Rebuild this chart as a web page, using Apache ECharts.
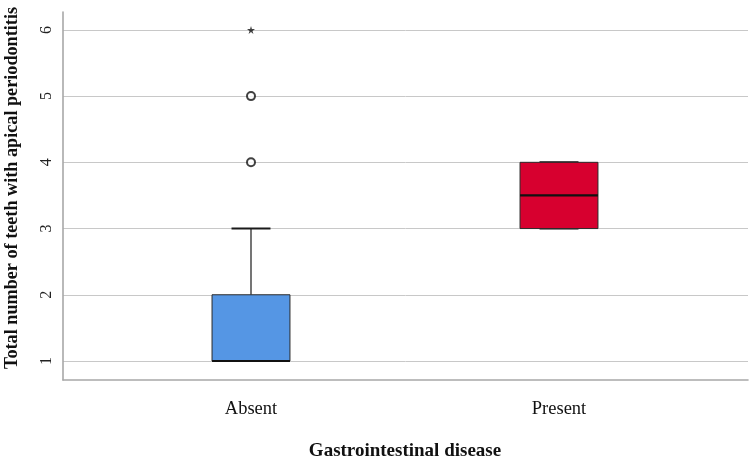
<!DOCTYPE html>
<html>
<head>
<meta charset="utf-8">
<script src="https://cdn.jsdelivr.net/npm/echarts@6/dist/echarts.min.js"></script>
<style>html,body{margin:0;padding:0;background:#fff}#c{width:750px;height:460px}</style>
</head>
<body>
<div id="c"></div>
<script>
const categories = ['Absent', 'Present'];
const boxMin = [1, 3];
const boxQ1 = [1, 3];
const boxMedian = [1, 3.5];
const boxQ3 = [2, 4];
const boxMax = [3, 4];
const outliers = [['Absent', 4], ['Absent', 5]];
const extremes = [['Absent', 6]];
const yTicks = [1, 2, 3, 4, 5, 6];
const boxColors = ['#5596e4', '#d7002f'];

const yMin = 0.713, yMax = 6.27;
const serif = '"Liberation Serif", "DejaVu Serif", serif';

const boxData = categories.map((c, i) => [i, boxMin[i], boxQ1[i], boxMedian[i], boxQ3[i], boxMax[i]]);

const chart = echarts.init(document.getElementById('c'), null, {renderer: 'canvas'});
chart.setOption({
  animation: false,
  backgroundColor: '#fff',
  grid: [
    {left: 63, right: 2, top: 12, bottom: 80, containLabel: false, outerBoundsMode: 'none'},
    {left: 97, width: 616, top: 12, bottom: 80, containLabel: false, outerBoundsMode: 'none'}
  ],
  xAxis: [
    {gridIndex: 0, type: 'value', min: 0, max: 1,
     axisLine: {show: true, lineStyle: {color: '#a8a8a8', width: 1.6}},
     axisTick: {show: false}, axisLabel: {show: false}, splitLine: {show: false}},
    {gridIndex: 1, type: 'category', data: categories, boundaryGap: true,
     axisLine: {show: false}, axisTick: {show: false},
     axisLabel: {fontFamily: serif, fontSize: 18.5, color: '#111', margin: 20},
     name: 'Gastrointestinal disease', nameLocation: 'middle', nameGap: 62,
     nameTextStyle: {fontFamily: serif, fontSize: 19, fontWeight: 'bold', color: '#111'}}
  ],
  yAxis: [
    {gridIndex: 0, type: 'value', min: yMin, max: yMax,
     axisLine: {show: true, lineStyle: {color: '#a8a8a8', width: 1.6}},
     axisTick: {show: false, customValues: yTicks},
     axisLabel: {customValues: yTicks, rotate: 90, fontFamily: serif, fontSize: 16, color: '#222', margin: 8},
     splitLine: {show: true, lineStyle: {color: '#c8c8c8', width: 1}},
     name: 'Total number of teeth with apical periodontitis', nameLocation: 'middle', nameGap: 42,
     nameTextStyle: {fontFamily: serif, fontSize: 18.2, fontWeight: 'bold', color: '#111', padding: [0, 0, 0, 16]}},
    {gridIndex: 1, type: 'value', min: yMin, max: yMax, show: false, splitLine: {show: false}}
  ],
  series: [
    {
      type: 'custom', xAxisIndex: 1, yAxisIndex: 1, data: boxData,
      encode: {x: 0, y: [1, 2, 3, 4, 5]},
      renderItem: function (params, api) {
        const i = api.value(0);
        const bw = api.size([1, 0])[0] * 0.253;
        const pMin = api.coord([i, api.value(1)]);
        const pQ1 = api.coord([i, api.value(2)]);
        const pMed = api.coord([i, api.value(3)]);
        const pQ3 = api.coord([i, api.value(4)]);
        const pMax = api.coord([i, api.value(5)]);
        const cx = pMin[0];
        const ls = {stroke: '#1a1a1a', lineWidth: 1.2};
        return {
          type: 'group',
          children: [
            {type: 'line', shape: {x1: cx, y1: pQ3[1], x2: cx, y2: pMax[1]}, style: ls},
            {type: 'line', shape: {x1: cx, y1: pQ1[1], x2: cx, y2: pMin[1]}, style: ls},
            {type: 'line', shape: {x1: cx - bw / 4, y1: pMax[1], x2: cx + bw / 4, y2: pMax[1]}, style: {stroke: '#1a1a1a', lineWidth: 2}},
            {type: 'line', shape: {x1: cx - bw / 4, y1: pMin[1], x2: cx + bw / 4, y2: pMin[1]}, style: {stroke: '#1a1a1a', lineWidth: 2}},
            {type: 'rect', shape: {x: cx - bw / 2, y: pQ3[1], width: bw, height: pQ1[1] - pQ3[1]},
             style: {fill: boxColors[i], stroke: '#2a2a2a', lineWidth: 1}},
            {type: 'line', shape: {x1: cx - bw / 2, y1: pMed[1], x2: cx + bw / 2, y2: pMed[1]}, style: {stroke: '#111', lineWidth: 2.2}}
          ]
        };
      }
    },
    {
      type: 'scatter', xAxisIndex: 1, yAxisIndex: 1, data: outliers,
      symbol: 'circle', symbolSize: 8,
      itemStyle: {color: '#fff', borderColor: '#111', borderWidth: 2}
    },
    {
      type: 'scatter', xAxisIndex: 1, yAxisIndex: 1, data: extremes,
      symbol: 'path://M50,0 L61,35 L98,35 L68,57 L79,91 L50,70 L21,91 L32,57 L2,35 L39,35 Z',
      symbolSize: 8, itemStyle: {color: '#111'}
    }
  ]
});
</script>
</body>
</html>
